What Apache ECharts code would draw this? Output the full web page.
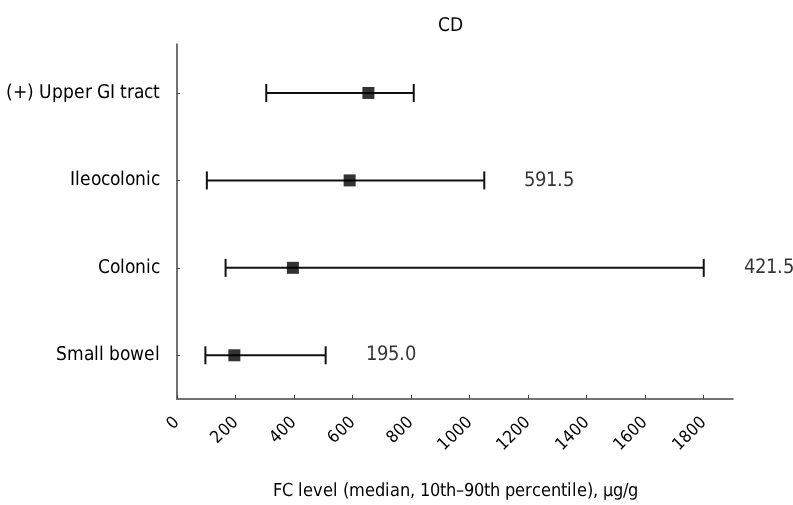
<!DOCTYPE html>
<html>
<head>
<meta charset="utf-8">
<script src="https://cdn.jsdelivr.net/npm/echarts@6/dist/echarts.min.js"></script>
<style>
  @font-face {
    font-family: 'CondSans';
    src: local('Liberation Sans Narrow'), local('LiberationSansNarrow-Regular'),
         local('DejaVu Sans Condensed'), local('DejaVuSansCondensed');
  }
  html, body { margin: 0; padding: 0; background: #fff; }
  #chart { width: 793px; height: 505px; }
</style>
</head>
<body>
<div id="chart"></div>
<script>
// rows from bottom to top
const categories = ['Small bowel', 'Colonic', 'Ileocolonic', '(+) Upper GI tract'];
const medians = [196, 396, 590, 654];
const p10 = [97, 166, 102, 305];
const p90 = [508, 1800, 1050, 809];
const medianLabels = ['195.0', '421.5', '591.5', ''];
const xTicks = [0, 200, 400, 600, 800, 1000, 1200, 1400, 1600, 1800];

const FONT = "CondSans, 'Liberation Sans', sans-serif";
const rows = categories.map((_, i) => i);

function draw() {
  const chart = echarts.init(document.getElementById('chart'));

  const option = {
    animation: false,
    title: {
      text: 'CD',
      left: 445,
      top: 12,
      textAlign: 'center',
      textStyle: { fontFamily: FONT, fontSize: 19, fontWeight: 'normal', color: '#000' }
    },
    grid: { left: 177, right: 60, top: 44, bottom: 104 },
    xAxis: {
      type: 'value',
      min: 0,
      max: 1900,
      interval: 200,
      name: 'FC level (median, 10th\u201390th percentile), \u03bcg/g',
      nameLocation: 'middle',
      nameGap: 83,
      nameTextStyle: { fontFamily: FONT, fontSize: 17.5, color: '#000' },
      axisLine: { onZero: false, lineStyle: { color: '#444', width: 1.5 } },
      axisTick: { inside: true, length: 4, customValues: xTicks, lineStyle: { color: '#444' } },
      axisLabel: {
        customValues: xTicks,
        rotate: 45,
        margin: 21,
        fontFamily: FONT,
        fontSize: 17,
        color: '#000',
        formatter: v => String(v)
      },
      splitLine: { show: false }
    },
    yAxis: {
      type: 'value',
      min: -0.5,
      max: 3.56,
      axisLine: { show: true, onZero: false, lineStyle: { color: '#444', width: 1.5 } },
      axisTick: { show: true, inside: true, length: 3, customValues: rows, lineStyle: { color: '#444' } },
      axisLabel: {
        customValues: rows,
        margin: 17,
        fontFamily: FONT,
        fontSize: 18.5,
        color: '#000',
        formatter: v => categories[Math.round(v)]
      },
      splitLine: { show: false }
    },
    series: [
      {
        // 10th-90th percentile whiskers
        type: 'custom',
        data: rows.map(i => [p10[i], p90[i], i]),
        renderItem: (params, api) => {
          const lo = api.coord([api.value(0), api.value(2)]);
          const hi = api.coord([api.value(1), api.value(2)]);
          const h = 9;
          const style = { stroke: '#111', lineWidth: 2 };
          return {
            type: 'group',
            children: [
              { type: 'line', shape: { x1: lo[0], y1: lo[1], x2: hi[0], y2: hi[1] }, style },
              { type: 'line', shape: { x1: lo[0], y1: lo[1] - h, x2: lo[0], y2: lo[1] + h }, style },
              { type: 'line', shape: { x1: hi[0], y1: hi[1] - h, x2: hi[0], y2: hi[1] + h }, style }
            ]
          };
        },
        z: 2
      },
      {
        // medians
        type: 'scatter',
        data: rows.map(i => [medians[i], i]),
        symbol: 'rect',
        symbolSize: 12,
        itemStyle: { color: '#000' },
        z: 3
      },
      {
        // median value labels, to the right of each whisker
        type: 'scatter',
        data: rows.map(i => [p90[i], i]),
        symbolSize: 0,
        silent: true,
        label: {
          show: true,
          position: 'right',
          distance: 40,
          fontFamily: FONT,
          fontSize: 20,
          color: '#000',
          formatter: p => medianLabels[p.dataIndex]
        }
      }
    ]
  };

  chart.setOption(option);
}

if (document.fonts && document.fonts.load) {
  document.fonts.load("20px CondSans").then(draw, draw);
} else {
  draw();
}
</script>
</body>
</html>
